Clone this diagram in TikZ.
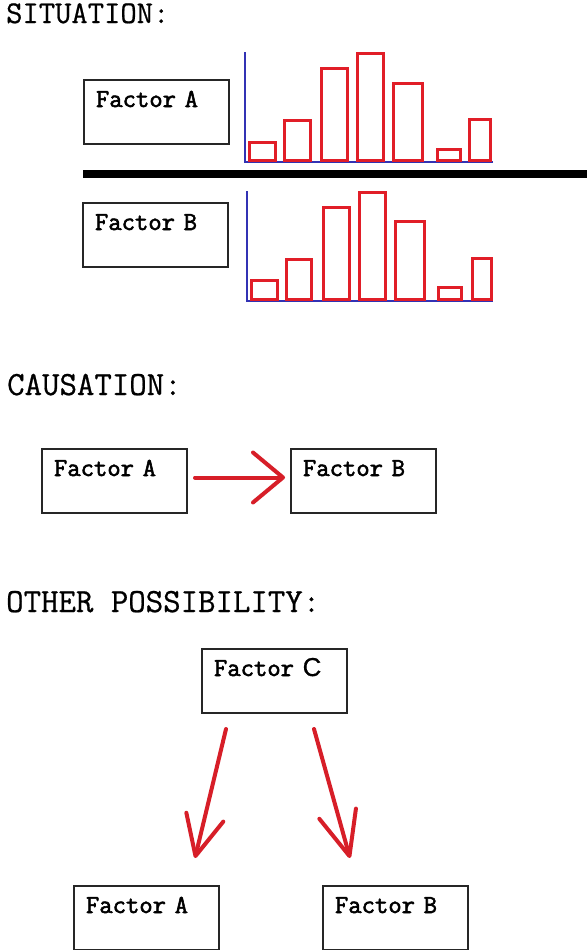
\documentclass[tikz,border=0pt]{standalone}
\usepackage{fontspec}
\newfontfamily\headtt[FakeBold=0.7]{Latin Modern Mono}
\newfontfamily\lbltt[FakeBold=2.2]{Latin Modern Mono}
\newfontfamily\arialf[FakeBold=0.6]{Liberation Sans}
\usetikzlibrary{arrows.meta,calc}
\definecolor{barred}{RGB}{225,30,40}
\definecolor{axisblue}{RGB}{50,50,180}
\definecolor{arrred}{RGB}{215,30,40}
\begin{document}
\begin{tikzpicture}[x=1bp,y=-1bp,
 heading/.style={anchor=base west, inner sep=0, font=\fontsize{34}{34}\selectfont\headtt},
 fbox/.style={draw=black!85, line width=2bp, anchor=north west, minimum width=145bp, minimum height=64bp,
   inner xsep=12bp, inner ysep=0pt, text width=121bp, align=left, text height=27bp, text depth=37bp,
   font=\fontsize{26}{26}\selectfont\lbltt},
 bar/.style={draw=barred, line width=3.2bp},
 axisline/.style={draw=axisblue, line width=1.2bp},
 rarrow/.style={draw=arrred, line width=4bp, line cap=round},
]
\fill[white] (0,0) rectangle (587,950);
\useasboundingbox (0,0) rectangle (587,950);

% SITUATION
\node[heading, font=\fontsize{31.8}{31.8}\selectfont\headtt] (h1) at (6,23) {SITUATION:};
\node[fbox] (sA) at (83,79) {Factor A};
\node[fbox] (sB) at (82,202) {Factor B};
\fill (83,170) rectangle (587,178);

\draw[axisline] (245,52) -- (245,162) -- (493,162);
\foreach \a/\b/\t in {248/277/141, 283/312/119, 320/349/67, 356/385/52, 392/424/82, 436/462/148, 468/492/118}
  \draw[bar] (\a+1.6,\t+1.6) rectangle (\b-1.6,160.4);

\draw[axisline] (247,191) -- (247,301) -- (493,301);
\foreach \a/\b/\t in {250/279/279, 285/313/258, 322/351/206, 358/387/191, 394/426/220, 437/463/286, 471/493/257}
  \draw[bar] (\a+1.6,\t+1.6) rectangle (\b-1.6,299.4);

% CAUSATION
\node[heading] (h2) at (7,395) {CAUSATION:};
\node[fbox] (cA) at (41,448) {Factor A};
\node[fbox] (cB) at (290,448) {Factor B};
\draw[rarrow, -{Straight Barb[length=30bp,width=50bp,line cap=round,round]}, shorten <=7bp, shorten >=5bp]
  ([yshift=3.5bp]cA.east) -- ([yshift=3.5bp]cB.west);

% OTHER POSSIBILITY
\node[heading] (h3) at (6,612) {OTHER POSSIBILITY:};
\node[fbox] (oC) at (201,648) {Factor{\arialf\fontsize{26}{26}\selectfont\ C}};
\node[fbox] (oA) at (73,885) {Factor A};
\node[fbox] (oB) at (322,885) {Factor B};
\coordinate (l1) at ($(oC.south west)+(25,15)$);
\coordinate (l2) at ($(oA.north west)+(122,-27)$);
\coordinate (r1) at ($(oC.south west)+(113,15)$);
\coordinate (r2) at ($(oB.north west)+(28,-27)$);
\draw[rarrow, -{Straight Barb[length=40bp,width=38bp,line cap=round,round]}] (l1) -- (l2);
\draw[rarrow, -{Straight Barb[length=44bp,width=38bp,line cap=round,round]}] (r1) -- (r2);
\end{tikzpicture}
\end{document}
